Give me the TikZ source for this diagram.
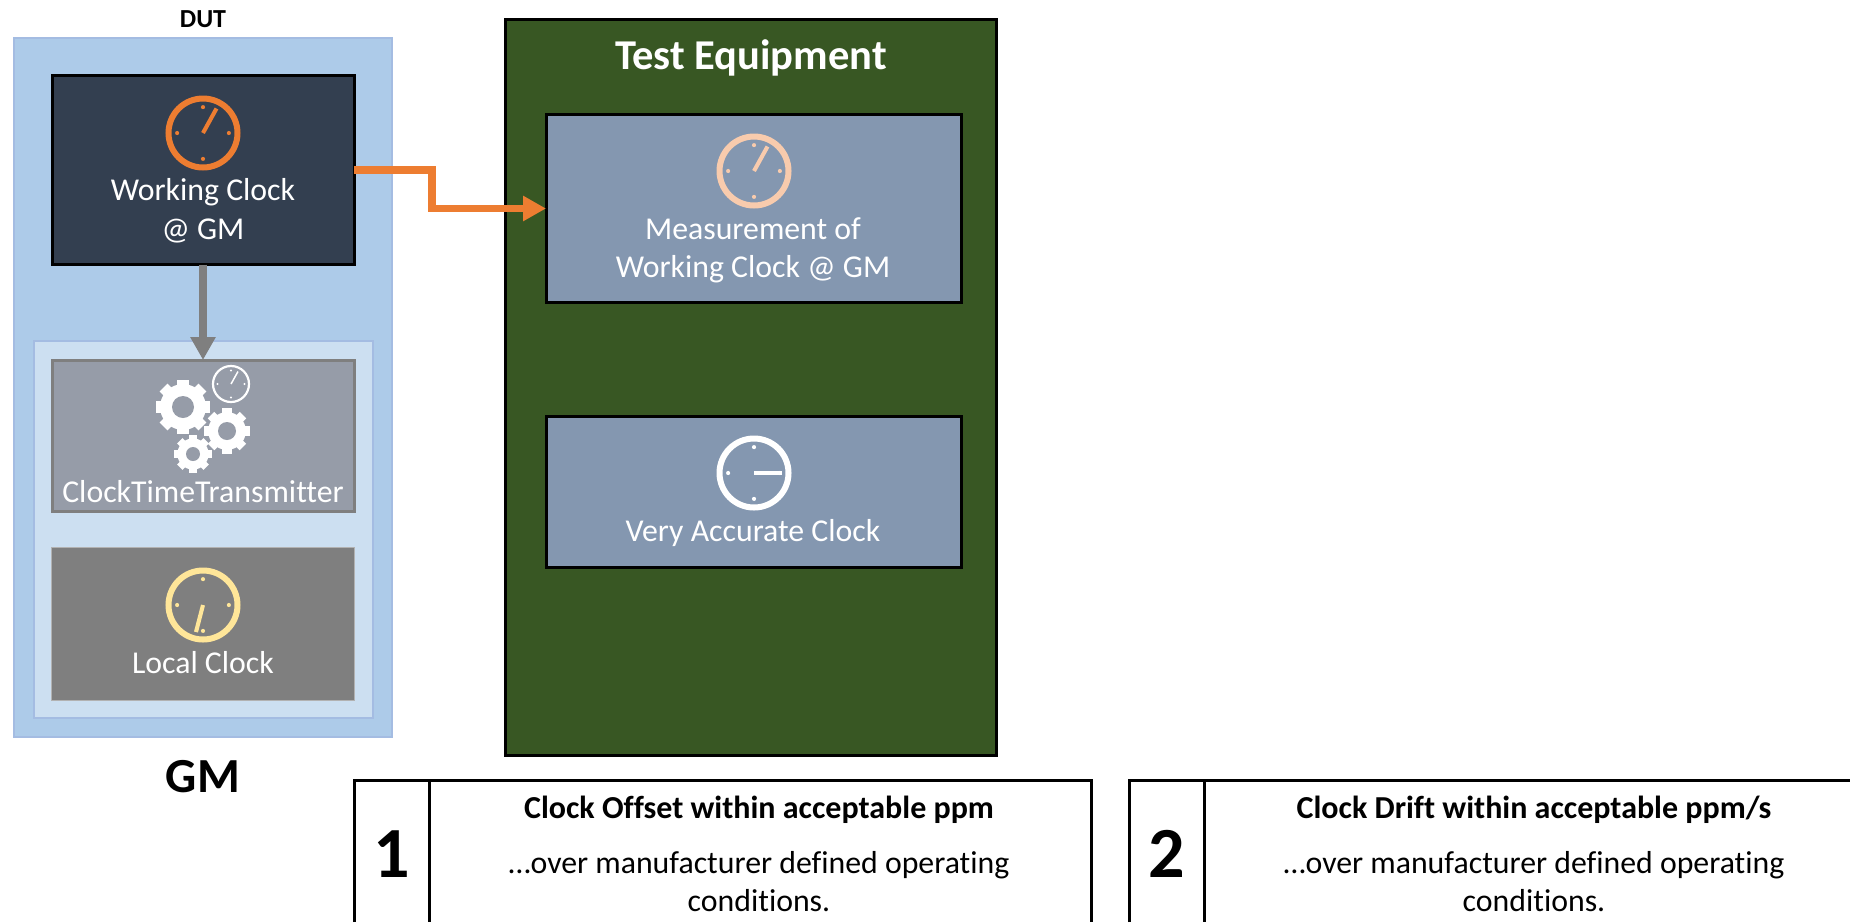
\documentclass[tikz,border=0pt]{standalone}
\usepackage{fontspec}
\setmainfont[RawFeature={-liga;-clig;-dlig;-calt}]{Carlito}
\usetikzlibrary{arrows.meta}
\definecolor{dutfill}{HTML}{ADCBE9}
\definecolor{dutline}{HTML}{A4BCE2}
\definecolor{gmfill}{HTML}{CCDFF1}
\definecolor{navy}{HTML}{333F50}
\definecolor{orangec}{HTML}{ED7D31}
\definecolor{grayc}{HTML}{7F7F7F}
\definecolor{cttfill}{HTML}{969CA8}
\definecolor{teqfill}{HTML}{385723}
\definecolor{measfill}{HTML}{8497B0}
\definecolor{peach}{HTML}{F8CBAD}
\definecolor{cream}{HTML}{FFE699}
\newcommand{\clockicon}[7]{% x y R(centerline) stroke colour handx handy
  \draw[#5,line width=#4pt] (#1,#2) circle[radius=#3];
  \foreach \a in {0,90,180,270}
    \fill[#5] (#1,#2) ++(\a:{#3*0.75}) circle[radius={#3*0.06}];
  \draw[#5,line width={#4*0.68pt}] (#1,#2) -- ++(#6,#7);
}
\newcommand{\gearicon}[5]{% x y outer hole fill
  \fill[white] (#1,#2) circle[radius={#3*0.82}];
  \foreach \a in {0,45,...,315}
    \draw[white,line width={#3*0.40pt}] (#1,#2) -- ++(\a:{#3*0.98});
  \fill[#5] (#1,#2) circle[radius=#4];
}
\tikzset{
  x=1pt,y=-1pt,
  panel/.style={rectangle,inner sep=0pt,outer sep=0pt},
  txt/.style={anchor=base,inner sep=0pt,outer sep=0pt,white,font=\fontsize{31.8}{32}\selectfont},
  blk/.style={anchor=base,inner sep=0pt,outer sep=0pt,black},
  thickarrow/.style={line width=7.5pt,-{Triangle[length=23pt,width=24pt]}},
  tablebox/.style={black,line width=3pt},
}
\begin{document}
\begin{tikzpicture}
\useasboundingbox (0,0) rectangle (1850,922);
\node[panel,draw=dutline,fill=dutfill,line width=2pt,minimum width=378pt,minimum height=699pt] (dut) at (203,387.5) {};
\node[panel,draw=dutline,fill=gmfill,line width=2pt,minimum width=339pt,minimum height=377pt] (gmbox) at (203,529.5) {};
\node[panel,draw=black,fill=navy,line width=3pt,minimum width=302pt,minimum height=189pt] (wc) at (203,170) {};
\node[panel,draw=grayc,fill=cttfill,line width=3pt,minimum width=302pt,minimum height=151pt] (ctt) at (203,435.5) {};
\node[panel,draw=gray!60,fill=grayc,line width=1pt,minimum width=303pt,minimum height=153pt] (lc) at (203,624) {};
\node[panel,draw=black,fill=teqfill,line width=3pt,minimum width=491pt,minimum height=736pt] (teq) at (750.5,387.5) {};
\node[panel,draw=black,fill=measfill,line width=3pt,minimum width=415pt,minimum height=188pt] (meas) at (753.5,208.5) {};
\node[panel,draw=black,fill=measfill,line width=3pt,minimum width=415pt,minimum height=151pt] (vac) at (753.5,492) {};
% clocks
\clockicon{203}{133}{34.5}{6}{orangec}{13.5}{-24.5}
\clockicon{754}{171}{34.5}{6}{peach}{13.5}{-24.5}
\clockicon{754}{473}{34.5}{6}{white}{28}{0}
\clockicon{203}{605}{34.5}{6}{cream}{-7}{27}
\clockicon{231}{384}{18}{2.2}{white}{7}{-12.5}
% gears
\gearicon{183}{407}{28}{11}{cttfill}
\gearicon{227}{431}{23}{9}{cttfill}
\gearicon{193}{454}{19}{7}{cttfill}
% connectors
\coordinate (bend) at (432,190);
\draw[orangec,thickarrow] (wc.east) -| (bend) |- (meas.west);
\draw[grayc,thickarrow] (wc.south) -- (ctt.north);
% labels
\node[blk,font=\fontsize{26}{26}\selectfont\bfseries] (dutlab) at (203,27) {DUT};
\node[blk,font=\fontsize{49}{49}\selectfont\bfseries] (gmlab) at (203,792) {GM};
\node[txt] (wc1) at (203,200) {Working Clock};
\node[txt] (wc2) at (203,239) {@ GM};
\node[txt] (ctttxt) at (203,502) {ClockTimeTransmitter};
\node[txt] (lctxt) at (203,673) {Local Clock};
\node[txt,font=\fontsize{42.5}{43}\selectfont\bfseries] (teqtxt) at (751,69) {Test Equipment};
\node[txt] (m1) at (753,239) {Measurement of};
\node[txt] (m2) at (753,277) {Working Clock @ GM};
\node[txt] (vactxt) at (753,541) {Very Accurate Clock};
% bottom tables (running off the page)
\coordinate (t1a) at (354,922); \coordinate (t1b) at (1091,922);
\draw[tablebox] (t1a) |- (t1b |- 0,780) -- (t1b);
\draw[tablebox] (429,780) -- (429,922);
\coordinate (t2a) at (1129,922); \coordinate (t2b) at (1850,780);
\draw[tablebox] (t2a) |- (t2b);
\draw[tablebox] (1204,780) -- (1204,922);
\node[blk,font=\fontsize{72}{72}\selectfont\bfseries] (n1) at (392,877) {1};
\node[blk,font=\fontsize{32}{32}\selectfont\bfseries] (h1) at (759,818) {Clock Offset within acceptable ppm};
\node[blk,font=\fontsize{31.8}{32}\selectfont] (b1a) at (759,873) {…over manufacturer defined operating};
\node[blk,font=\fontsize{31.8}{32}\selectfont] (b1b) at (759,911) {conditions.};
\node[blk,font=\fontsize{72}{72}\selectfont\bfseries] (n2) at (1167,877) {2};
\node[blk,font=\fontsize{32}{32}\selectfont\bfseries] (h2) at (1534,818) {Clock Drift within acceptable ppm/s};
\node[blk,font=\fontsize{31.8}{32}\selectfont] (b2a) at (1534,873) {…over manufacturer defined operating};
\node[blk,font=\fontsize{31.8}{32}\selectfont] (b2b) at (1534,911) {conditions.};
\end{tikzpicture}
\end{document}
